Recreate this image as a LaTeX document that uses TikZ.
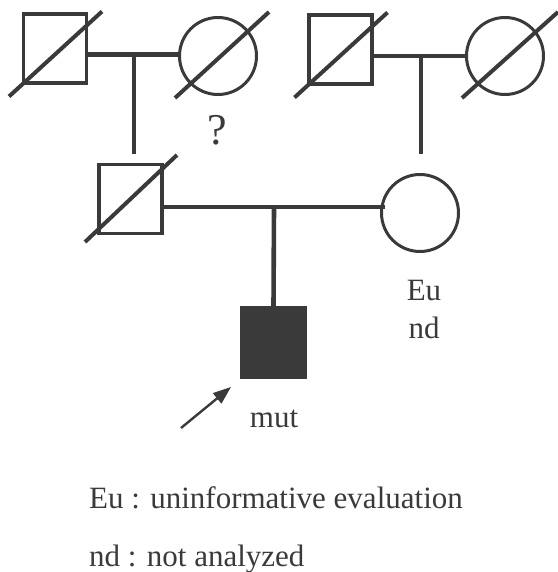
\documentclass[tikz,border=0pt]{standalone}
\usepackage{fontspec}
\setmainfont{Liberation Serif}
\usetikzlibrary{arrows.meta}
\definecolor{ink}{RGB}{58,58,58}
\tikzset{
  male/.style={draw=ink, line width=3.6pt, rectangle, minimum width=63pt, minimum height=69pt, inner sep=0pt},
  female/.style={draw=ink, line width=3pt, circle, minimum size=77pt, inner sep=0pt},
  affected/.style={male, fill=ink},
  rel/.style={draw=ink, line width=4.6pt},
  dead/.style={draw=ink, line width=4pt},
  lbl/.style={text=ink, font=\fontsize{31}{31}\selectfont, anchor=base, inner sep=0pt},
  legend/.style={text=ink, font=\fontsize{31}{31}\selectfont, anchor=base west, inner sep=0pt},
  pointer/.style={draw=ink, line width=2.4pt, -{Triangle[length=18pt,width=13pt]}}
}
\begin{document}
\begin{tikzpicture}[x=1pt,y=-1pt]
\useasboundingbox (0,0) rectangle (557,572);
% generation I
\node[male]   (I1) at (55,48.5) {};
\node[female] (I2) at (218,56) {};
\node[male]   (I3) at (340.5,49.5) {};
\node[female] (I4) at (505,56) {};
% generation II
\node[male]   (II1) at (130.5,199) {};
\node[female] (II2) at (420,213) {};
% generation III
\node[affected] (III1) at (273.5,342.5) {};
% coordinates
\coordinate (m1) at (134,54.5);
\coordinate (c1) at (134,154);
\coordinate (m2) at (421,56);
\coordinate (c2) at (421,154);
\coordinate (m3) at (274,207);
\coordinate (a1) at (181,428);
\coordinate (a2) at (231,387);
% deceased slashes
\draw[dead] ([shift={(-46,48)}]I1.center) -- ([shift={(47,-37)}]I1.center);
\draw[dead] ([shift={(-43,42)}]I2.center) -- ([shift={(51,-44)}]I2.center);
\draw[dead] ([shift={(-46,48)}]I3.center) -- ([shift={(47,-37)}]I3.center);
\draw[dead] ([shift={(-43,42)}]I4.center) -- ([shift={(53,-44)}]I4.center);
\draw[dead] ([shift={(-45.5,43)}]II1.center) -- ([shift={(46.5,-44)}]II1.center);
% relationship lines
\draw[rel] (I1.east |- m1) -- (I2.west |- m1);
\draw[rel] (m1) -- (c1);
\draw[rel] (I3.east |- m2) -- (I4.west |- m2);
\draw[rel] (m2) -- (c2);
\draw[rel] (II1.east |- m3) -- ([xshift=5pt]II2.west |- m3);
\draw[rel] (m3) -- (III1.north);
% proband arrow
\draw[pointer] (a1) -- (a2);
% labels
\node[lbl, font=\fontsize{44}{44}\selectfont] (q) at (217,145) {?};
\node[lbl] (eu) at (424,300) {Eu};
\node[lbl] (nd) at (424,338) {nd};
\node[lbl] (mut) at (274,427) {mut};
\node[legend] (leg1) at (89,508) {Eu : uninformative evaluation};
\node[legend] (leg2) at (89,566) {nd : not analyzed};
\end{tikzpicture}
\end{document}
